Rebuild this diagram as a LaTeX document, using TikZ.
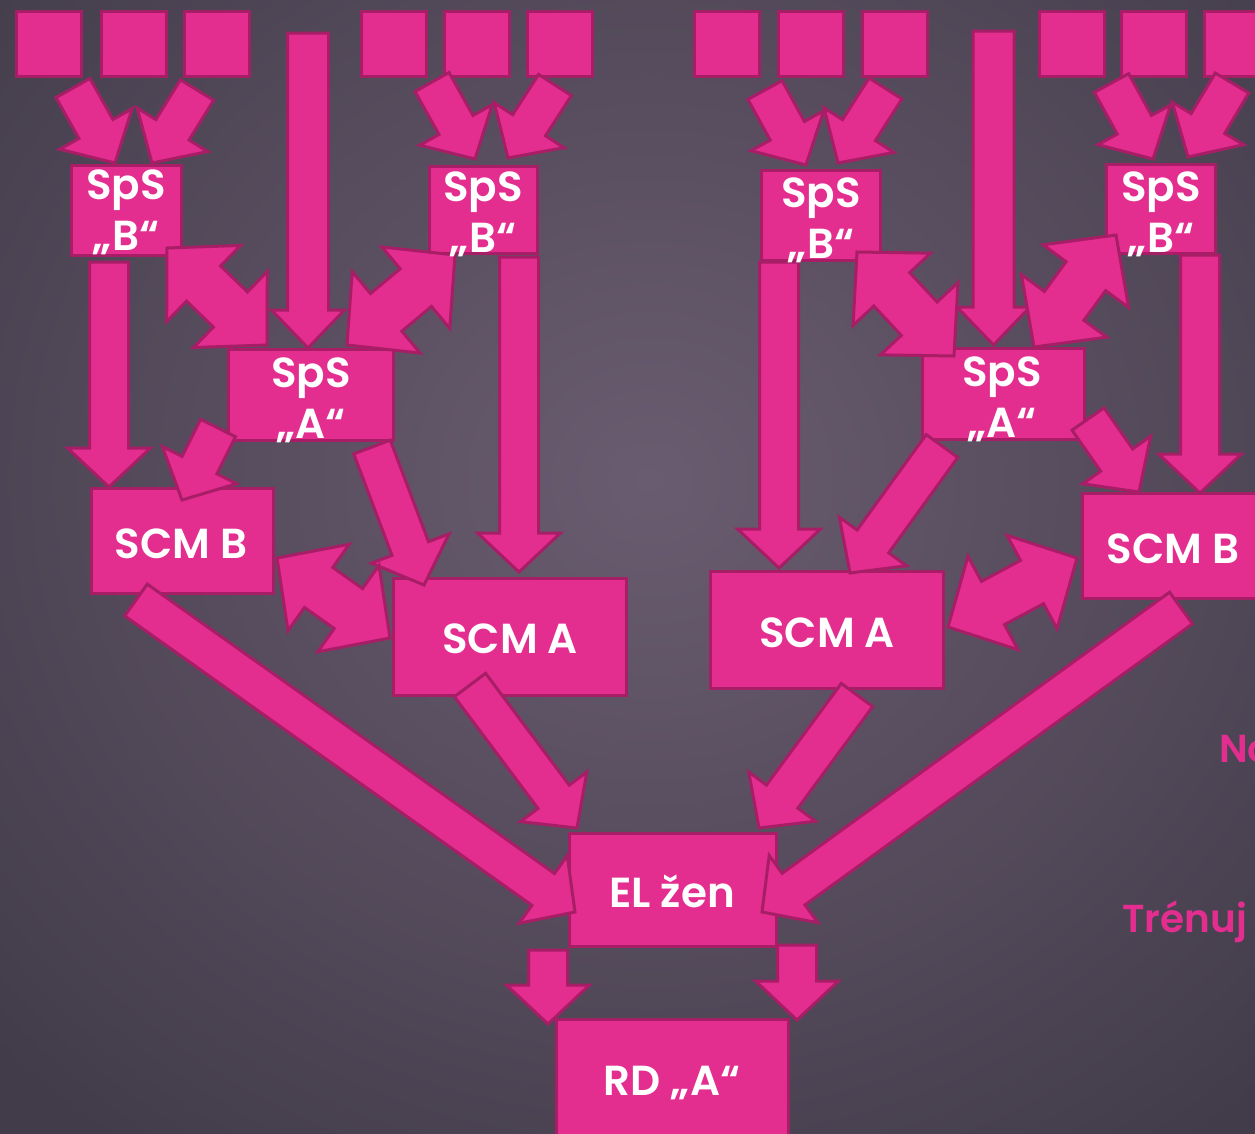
\documentclass[tikz,border=0pt]{standalone}
\usepackage{fontspec}
\setmainfont{Poppins}[UprightFont=* SemiBold, BoldFont=* Bold]
\usetikzlibrary{calc,fit}

\definecolor{pinkfill}{RGB}{227,45,143}
\definecolor{pinkline}{RGB}{168,30,102}
\definecolor{bginner}{RGB}{106,92,112}
\definecolor{bgouter}{RGB}{66,60,74}

\tikzset{
  box/.style={draw=pinkline, fill=pinkfill, line width=3pt, inner sep=0pt, rectangle},
  arrowbody/.style={draw=pinkline, fill=pinkfill, line width=3pt, line join=miter},
  boxtext/.style={text=white, font=\fontsize{42}{51}\selectfont, inner sep=0pt, align=center},
  sidetext/.style={text=pinkfill, font=\fontsize{39}{46}\selectfont, inner sep=0pt},
}

% block arrow: tail centre #1, tip #2, shaft half width #3, head half width #4, head length #5
\newcommand\fatarrow[5]{%
  \coordinate (fa-h) at ($(#2)!#5!(#1)$);
  \filldraw[arrowbody] ($(#1)!#3!90:(#2)$) -- ($(fa-h)!#3!90:(#2)$) -- ($(fa-h)!#4!90:(#2)$)
    -- (#2) -- ($(fa-h)!#4!-90:(#2)$) -- ($(fa-h)!#3!-90:(#2)$) -- ($(#1)!#3!-90:(#2)$) -- cycle;
}
% double block arrow between tips #1 and #2
\newcommand\fatdarrow[5]{%
  \coordinate (fa-a) at ($(#1)!#5!(#2)$);
  \coordinate (fa-b) at ($(#2)!#5!(#1)$);
  \filldraw[arrowbody] (#1) -- ($(fa-a)!#4!90:(#2)$) -- ($(fa-a)!#3!90:(#2)$)
    -- ($(fa-b)!#3!90:(#2)$) -- ($(fa-b)!#4!90:(#2)$) -- (#2)
    -- ($(fa-b)!#4!-90:(#2)$) -- ($(fa-b)!#3!-90:(#2)$)
    -- ($(fa-a)!#3!-90:(#2)$) -- ($(fa-a)!#4!-90:(#2)$) -- cycle;
}
\newcommand\single[2]{\fatarrow{#1}{#2}{19.5pt}{41.5pt}{39pt}}
\newcommand\tall[2]{\fatarrow{#1}{#2}{20.5pt}{36.5pt}{38pt}}
\newcommand\double[2]{\fatdarrow{#1}{#2}{24.5pt}{53pt}{51pt}}

\begin{document}
\begin{tikzpicture}[x=1pt,y=-1pt]
\useasboundingbox (0,0) rectangle (1255,1133);
\shade[inner color=bginner, outer color=bgouter] (-250,-350) rectangle (1550,1310);
\clip (0,0) rectangle (1255,1133);

% top row of squares
\foreach \x/\n in {15/q1,100/q2,183/q3,360/q4,443/q5,526/q6,693/q7,777/q8,861/q9,1038/q10,1120/q11,1203/q12}
  \node[box, fit={(\x+1.5,11.5) (\x+66.5,76.5)}] (\n) {};

% boxes
\node[box, fit={(71.5,165.5) (181.5,255.5)}] (spsb1) {};
\node[box, fit={(429.5,166.5) (537.5,253.5)}] (spsb2) {};
\node[box, fit={(761.5,170.5) (880.5,260.5)}] (spsb3) {};
\node[box, fit={(1106.5,164.5) (1215.5,253.5)}] (spsb4) {};
\node[box, fit={(228.5,349.5) (393.5,440.5)}] (spsa1) {};
\node[box, fit={(922.5,348.5) (1084.5,439.5)}] (spsa2) {};
\node[box, fit={(91.5,488.5) (273.5,593.5)}] (scmb1) {};
\node[box, fit={(393.5,578.5) (626.5,695.5)}] (scma1) {};
\node[box, fit={(710.5,571.5) (943.5,688.5)}] (scma2) {};
\node[box, fit={(1082.5,493.5) (1290,598.5)}] (scmb2) {};
\node[box, fit={(569.5,833.5) (776.5,946.5)}] (elzen) {};
\node[box, fit={(556.5,1019.5) (788.5,1150)}] (rd) {};

% arrow end points
\coordinate (q12s) at (73,88);    \coordinate (b1in1) at (115,163);
\coordinate (q23s) at (197,90);   \coordinate (b1in2) at (152,163);
\coordinate (q45s) at (432,82);   \coordinate (b2in1) at (475,159);
\coordinate (q56s) at (555,85);   \coordinate (b2in2) at (508,158);
\coordinate (q78s) at (765,90);   \coordinate (b3in1) at (806,165);
\coordinate (q89s) at (885.5,88.5); \coordinate (b3in2) at (838,163);
\coordinate (q1011s) at (1111.5,83); \coordinate (b4in1) at (1153,159);
\coordinate (q1112s) at (1232,83);   \coordinate (b4in2) at (1188,157);
\coordinate (tallLs) at (308,33);  \coordinate (a1top) at (308,348);
\coordinate (tallRs) at (993.5,31); \coordinate (a2top) at (993.5,345);
\coordinate (b1out) at (109,262);  \coordinate (scmb1top) at (109,487);
\coordinate (b2out) at (519,257);  \coordinate (scma1top) at (519,572);
\coordinate (b3out) at (779,262);  \coordinate (scma2top) at (779,568);
\coordinate (b4out) at (1200,255); \coordinate (scmb2top) at (1200,493);
\coordinate (a1outL) at (218,428); \coordinate (scmb1in) at (182,500);
\coordinate (a1outR) at (372,447); \coordinate (scma1in) at (424,585);
\coordinate (a2outL) at (942,446); \coordinate (scma2in) at (850,573);
\coordinate (a2outR) at (1088,419); \coordinate (scmb2in) at (1139,492);
\coordinate (scmb1out) at (136,600); \coordinate (elin1) at (575,912);
\coordinate (scma1out) at (470,685); \coordinate (elin2) at (577,828);
\coordinate (scma2out) at (857,695); \coordinate (elin3) at (759,828);
\coordinate (scmb2out) at (1181,608); \coordinate (elin4) at (762,912);
\coordinate (eloutL) at (548,950); \coordinate (rdinL) at (548,1024);
\coordinate (eloutR) at (797,945); \coordinate (rdinR) at (797,1020);
\coordinate (d1a) at (167,248);  \coordinate (d1b) at (267,345);
\coordinate (d2a) at (455,255);  \coordinate (d2b) at (347,345);
\coordinate (d3a) at (857,252);  \coordinate (d3b) at (954,356);
\coordinate (d4a) at (1116,235); \coordinate (d4b) at (1034,347);
\coordinate (d5a) at (277,558);  \coordinate (d5b) at (390,638);
\coordinate (d6a) at (948,627);  \coordinate (d6b) at (1077,558);

% squares into SpS B
\single{q12s}{b1in1} \single{q23s}{b1in2}
\single{q45s}{b2in1} \single{q56s}{b2in2}
\single{q78s}{b3in1} \single{q89s}{b3in2}
\single{q1011s}{b4in1} \single{q1112s}{b4in2}
% long straight feeds into SpS A
\tall{tallLs}{a1top} \tall{tallRs}{a2top}
% SpS B down to SCM
\single{b1out}{scmb1top} \single{b2out}{scma1top}
\single{b3out}{scma2top} \single{b4out}{scmb2top}
% SpS A to SCM
\single{a1outL}{scmb1in} \single{a1outR}{scma1in}
\single{a2outL}{scma2in} \single{a2outR}{scmb2in}
% SCM to EL
\single{scmb1out}{elin1} \single{scma1out}{elin2}
\single{scma2out}{elin3} \single{scmb2out}{elin4}
% EL to RD
\single{eloutL}{rdinL} \single{eloutR}{rdinR}
% two-way links
\double{d1a}{d1b} \double{d2a}{d2b} \double{d3a}{d3b}
\double{d4a}{d4b} \double{d5a}{d5b} \double{d6a}{d6b}

% labels (base anchor sits on the last line)
\node[boxtext, anchor=base] (t-spsb1) at (126,250) {SpS\\„B“};
\node[boxtext, anchor=base] (t-spsb2) at (483,252) {SpS\\„B“};
\node[boxtext, anchor=base] (t-spsb3) at (821,258) {SpS\\„B“};
\node[boxtext, anchor=base] (t-spsb4) at (1161,252) {SpS\\„B“};
\node[boxtext, anchor=base] (t-spsa1) at (311,438) {SpS\\„A“};
\node[boxtext, anchor=base] (t-spsa2) at (1002,437) {SpS\\„A“};
\node[boxtext, anchor=base] (t-scmb1) at (181,558) {SCM B};
\node[boxtext, anchor=base] (t-scma1) at (510,653) {SCM A};
\node[boxtext, anchor=base] (t-scma2) at (827,647) {SCM A};
\node[boxtext, anchor=base] (t-scmb2) at (1173,563) {SCM B};
\node[boxtext, anchor=base] (t-elzen) at (672,907) {EL žen};
\node[boxtext, anchor=base] (t-rd) at (672,1095) {RD „A“};

\node[sidetext, anchor=base west] (t-no) at (1219,762) {No};
\node[sidetext, anchor=base west] (t-trenuj) at (1122,932) {Trénuj};
\end{tikzpicture}
\end{document}
